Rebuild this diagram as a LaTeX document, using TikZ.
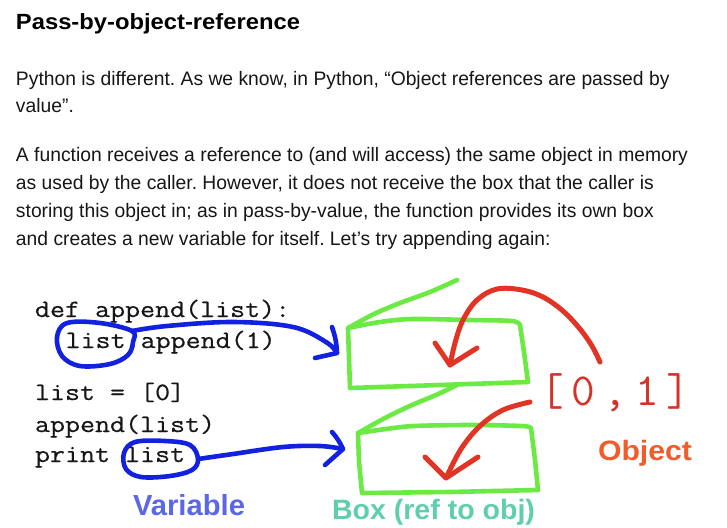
\documentclass[tikz,border=0pt]{standalone}
\usepackage{fontspec}
\setmainfont{Liberation Sans}
\newfontfamily\codefam{Latin Modern Mono}[FakeBold=0.45]
\usepackage{graphicx}
\frenchspacing

\definecolor{ink}{RGB}{22,22,22}
\definecolor{penblue}{RGB}{18,32,224}
\definecolor{pengreen}{RGB}{108,234,68}
\definecolor{penred}{RGB}{226,52,36}
\definecolor{listred}{RGB}{214,50,42}
\definecolor{varblue}{RGB}{92,102,232}
\definecolor{boxteal}{RGB}{96,206,172}
\definecolor{objorange}{RGB}{240,92,42}

% horizontal fit: scale #2 so that its width becomes #1 pt
\newlength\fitlen
\newcommand\fitw[2]{\settowidth\fitlen{#2}%
  \pgfmathsetmacro\fitsx{#1/\fitlen}\scalebox{\fitsx}[1]{#2}}

\newcommand\bodyfont{\fontsize{19.5}{24}\selectfont\color{ink}}
\newcommand\codefont{\fontsize{25}{25}\codefam\color{ink}}
\newcommand\codeline[1]{\scalebox{1.166}[1]{\codefont #1}}
\newlength\bodyref
\newcommand\bodysx{1}
\newcommand\bodyline[1]{\scalebox{\bodysx}[1]{\bodyfont #1}}
\AtBeginDocument{%
  \settowidth\bodyref{\bodyfont A function receives a reference to (and will access) the same object in memory}%
  \pgfmathsetmacro\bodysx{672/\bodyref}}

\begin{document}
\begin{tikzpicture}[x=1pt,y=-1pt,
  txt/.style={anchor=base west, inner sep=0pt, outer sep=0pt},
  pen/.style={line width=4.6pt, line cap=round, line join=round},
  bluepen/.style={pen, draw=penblue},
  greenpen/.style={pen, draw=pengreen},
  redpen/.style={pen, draw=penred, line width=5pt},
  label/.style={txt, font=\bfseries}]
\useasboundingbox (0,0) rectangle (727,527);

% ---- heading and paragraphs ----
\node[txt] (title) at (16,30)
  {\fitw{284}{\fontsize{22}{26}\selectfont\bfseries\color{black}Pass-by-object-reference}};

\node[txt] (p1a) at (16,85) {\bodyline{Python is different. As we know, in Python, “Object references are passed by}};
\node[txt] (p1b) at (16,112) {\bodyline{value”.}};

\node[txt] (p2a) at (16,161) {\bodyline{A function receives a reference to (and will access) the same object in memory}};
\node[txt] (p2b) at (16,189) {\bodyline{as used by the caller. However, it does not receive the box that the caller is}};
\node[txt] (p2c) at (16,217) {\bodyline{storing this object in; as in pass-by-value, the function provides its own box}};
\node[txt] (p2d) at (16,245) {\bodyline{and creates a new variable for itself. Let’s try appending again:}};

% ---- code ----
\node[txt] (c1) at (35,317) {\codeline{def append(list):}};
\node[txt] (c2) at (65.6,348) {\codeline{list.append(1)}};
\node[txt] (c3) at (35,400) {\codeline{list = [0]}};
\node[txt] (c4) at (35,432) {\codeline{append(list)}};
\node[txt] (c5) at (35,462) {\codeline{print list}};

% ---- boxes (green) ----
\coordinate (b1tl) at (348,328);
\coordinate (b1tr) at (520,325);
\coordinate (b1br) at (528,382);
\coordinate (b1bl) at (350,388);
\coordinate (b2tl) at (358,433);
\coordinate (b2tr) at (531,428);
\coordinate (b2br) at (538,490);
\coordinate (b2bl) at (362,493);
\coordinate (b1back) at (457,280);
\coordinate (b2back) at (457,385);

\draw[greenpen] plot[smooth, tension=0.5] coordinates
  {(b1tl) (380,322) (412,319) (470,320) (512,321) (b1tr)}
  -- (524,352) -- (b1br) -- (440,385) -- (b1bl) -- (349,358) -- cycle;
\draw[greenpen] plot[smooth, tension=0.5] coordinates
  {(b1tl) (374,314) (400,303) (430,292) (b1back)};

\draw[greenpen] plot[smooth, tension=0.5] coordinates
  {(b2tl) (386,429) (414,426) (470,425) (522,426) (b2tr)}
  -- (535,460) -- (b2br) -- (450,492) -- (b2bl) -- (359,462) -- cycle;
\draw[greenpen] plot[smooth, tension=0.5] coordinates
  {(b2tl) (385,418) (412,405) (436,395) (b2back)};

% ---- variables (blue loops and arrows) ----
\coordinate (v1out) at (132,331);
\coordinate (v1tip) at (337,353);
\draw[bluepen] plot[smooth cycle, tension=0.6] coordinates
  {(v1out) (100,323) (67,323) (57,337) (62,356) (80,366) (110,364) (128,355) (133,342)};
\draw[bluepen] plot[smooth, tension=0.6] coordinates
  {(v1out) (167,326) (233,322) (293,327) (326,342) (v1tip)};
\draw[bluepen] (332,327) to[bend left=8] (v1tip) -- (315,358);

\coordinate (v2out) at (198,459);
\coordinate (v2tip) at (343,449);
\draw[bluepen] plot[smooth cycle, tension=0.6] coordinates
  {(v2out) (190,445) (165,441) (135,442) (124,453) (126,469) (141,477) (170,476) (192,470)};
\draw[bluepen] plot[smooth, tension=0.6] coordinates
  {(v2out) (233,454) (283,447) (320,446) (v2tip)};
\draw[bluepen] (332,432) to[bend left=8] (v2tip) -- (325,465);

% ---- object (red) ----
\node[txt, text=listred] (obj) at (540,405)
  {\fontsize{46}{46}\ttfamily [\hspace{8pt}0\hspace{8pt},\hspace{8pt}1\hspace{8pt}]};

\coordinate (r1start) at (600,362);
\coordinate (r1tip) at (450,365);
\draw[redpen] plot[smooth, tension=0.6] coordinates
  {(r1start) (592,346) (580,329) (563,311) (543,297) (522,290) (497,289) (477,300) (463,320) (455,343) (r1tip)};
\draw[redpen] (435,343) -- (r1tip) -- (477,348);

\coordinate (r2start) at (530,402);
\coordinate (r2tip) at (446,478);
\draw[redpen] plot[smooth, tension=0.6] coordinates
  {(r2start) (503,410) (480,426) (461,449) (r2tip)};
\draw[redpen] (425,457) -- (r2tip) -- (478,457);

% ---- labels ----
\node[label, text=varblue] (lvar) at (133,515) {\fitw{112}{\fontsize{29}{30}\selectfont Variable}};
\node[label, text=boxteal] (lbox) at (332,519) {\fitw{203}{\fontsize{28}{30}\selectfont Box (ref to obj)}};
\node[label, text=objorange] (lobj) at (598,460) {\fitw{94}{\fontsize{28}{30}\selectfont Object}};
\end{tikzpicture}
\end{document}
